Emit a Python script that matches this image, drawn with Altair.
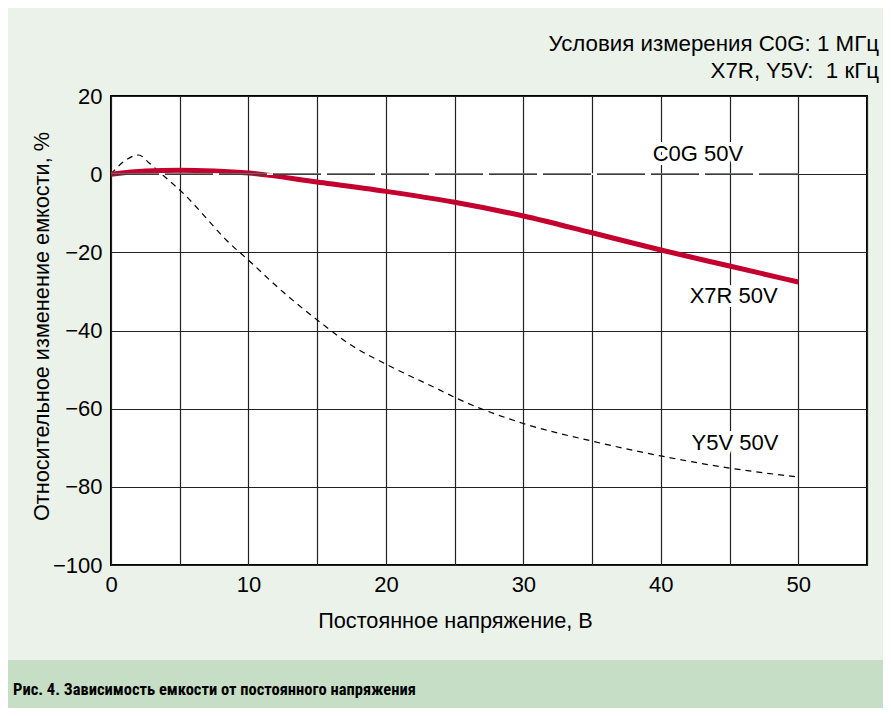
import altair as alt
import pandas as pd

# ---- data ----
x7r_v = [0, 2.5, 5, 7.5, 10, 15, 20, 25, 30, 35, 40, 45, 50]
x7r_c = [0, 0.8, 1.0, 0.8, 0.3, -2.0, -4.4, -7.2, -10.7, -15.0, -19.4, -23.5, -27.6]

y5v_v = [0, 1, 2, 2.8, 3.7, 5.4, 7, 8.4, 10, 12.5, 15, 17.5, 20, 23.9, 25, 30, 35, 40, 45, 50]
y5v_c = [0, 3.4, 4.9, 2.8, 0, -5.4, -11.5, -16.9, -22.0, -30.1, -37.3, -43.8, -48.6, -55.2,
         -57.1, -63.8, -68.3, -72.1, -75.2, -77.5]

c0g_v = [0, 50]
c0g_c = [0, 0]

label_text = ["C0G 50V", "X7R 50V", "Y5V 50V"]
label_v = [42.7, 45.3, 45.4]
label_c = [5.1, -31.2, -68.8]

x_ticks = [0, 5, 10, 15, 20, 25, 30, 35, 40, 45, 50, 55]
y_ticks = [-100, -80, -60, -40, -20, 0, 20]

note_lines = ["Условия измерения C0G: 1 МГц", "X7R, Y5V:\u00a0\u00a01 кГц"]
caption = "Рис. 4. Зависимость емкости от постоянного напряжения"

FONT = "Liberation Sans"
CAP_FONT = ("Noto Sans ExtraCondensed, Noto Sans Condensed, Roboto Condensed, "
            "Liberation Sans Narrow, Liberation Sans")
PANEL = "#eaf2ea"
BAR = "#c6dec5"
RED = "#c4002f"

x7r = pd.DataFrame({"v": x7r_v, "c": x7r_c})
y5v = pd.DataFrame({"v": y5v_v, "c": y5v_c})
c0g = pd.DataFrame({"v": c0g_v, "c": c0g_c})
labels = pd.DataFrame({"t": label_text, "v": label_v, "c": label_c})

xs = alt.Scale(domain=[0, 55], nice=False, zero=False)
ys = alt.Scale(domain=[-100, 20], nice=False, zero=False)

x_axis = alt.Axis(
    values=x_ticks,
    labelExpr="datum.value % 10 == 0 && datum.value <= 50 ? datum.label : ''",
    title="Постоянное напряжение, В",
    grid=True, gridColor="#222", gridWidth=1.2,
    domain=False, ticks=False,
    labelFont=FONT, labelFontSize=22, labelColor="black", labelPadding=9,
    labelFlush=False,
    titleFont=FONT, titleFontSize=21.7, titleFontWeight="normal", titleColor="black",
    titleX=344, titleY=62, titleAnchor="start", titleAlign="center",
    titleBaseline="alphabetic",
)
y_axis = alt.Axis(
    values=y_ticks,
    title="Относительное изменение емкости, %",
    grid=True, gridColor="#222", gridWidth=1.2,
    domain=False, ticks=False,
    labelFont=FONT, labelFontSize=22, labelColor="black", labelPadding=9,
    labelFlush=False,
    titleFont=FONT, titleFontSize=21.7, titleFontWeight="normal", titleColor="black",
    titleX=-63, titleY=230, titleAngle=-90, titleAlign="center",
    titleBaseline="alphabetic", titleAnchor="start",
)

base_x = alt.X("v:Q", scale=xs, axis=x_axis)
base_y = alt.Y("c:Q", scale=ys, axis=y_axis)

y5v_line = alt.Chart(y5v).mark_line(color="black", strokeWidth=1.2, strokeDash=[6, 5],
                                    interpolate="monotone").encode(x=base_x, y=base_y)
x7r_line = alt.Chart(x7r).mark_line(color=RED, strokeWidth=5, interpolate="monotone").encode(
    x="v:Q", y="c:Q")
c0g_under = alt.Chart(c0g).mark_line(color="white", strokeWidth=1.6).encode(x="v:Q", y="c:Q")
c0g_line = alt.Chart(c0g).mark_line(color="black", strokeWidth=1.4, strokeDash=[48, 6]).encode(
    x="v:Q", y="c:Q")

label_halo = alt.Chart(labels).mark_text(
    font=FONT, fontSize=22, color="white", stroke="white", strokeWidth=8,
    align="center", baseline="middle").encode(x="v:Q", y="c:Q", text="t:N")
label_txt = alt.Chart(labels).mark_text(
    font=FONT, fontSize=22, color="black", align="center", baseline="middle").encode(
    x="v:Q", y="c:Q", text="t:N")

bar = alt.Chart(pd.DataFrame({"k": [0]})).mark_rect(color=BAR).encode(
    x=alt.value(-103), x2=alt.value(772), y=alt.value(564), y2=alt.value(612))
cap = alt.Chart(pd.DataFrame({"t": [caption]})).mark_text(
    font=CAP_FONT, fontSize=16.5, fontWeight="bold", color="black",
    align="left", baseline="alphabetic").encode(
    text="t:N", x=alt.value(-98), y=alt.value(599))

chart = alt.layer(
    y5v_line, x7r_line, c0g_under, c0g_line, label_halo, label_txt, bar, cap
).properties(
    width=756, height=469,
    title=alt.TitleParams(
        text=note_lines, anchor="end", orient="top", font=FONT, fontSize=22.3,
        fontWeight="normal", color="black", offset=3, dx=12, lineHeight=27,
        align="right", frame="group"),
    autosize=alt.AutoSizeParams(type="none"),
    padding={"left": 103, "top": 88, "right": 16, "bottom": 143},
).configure(
    background=PANEL,
).configure_view(
    fill="white", stroke="black", strokeWidth=2,
)

chart.save("out.html", embed_options={"renderer": "svg", "actions": False})
